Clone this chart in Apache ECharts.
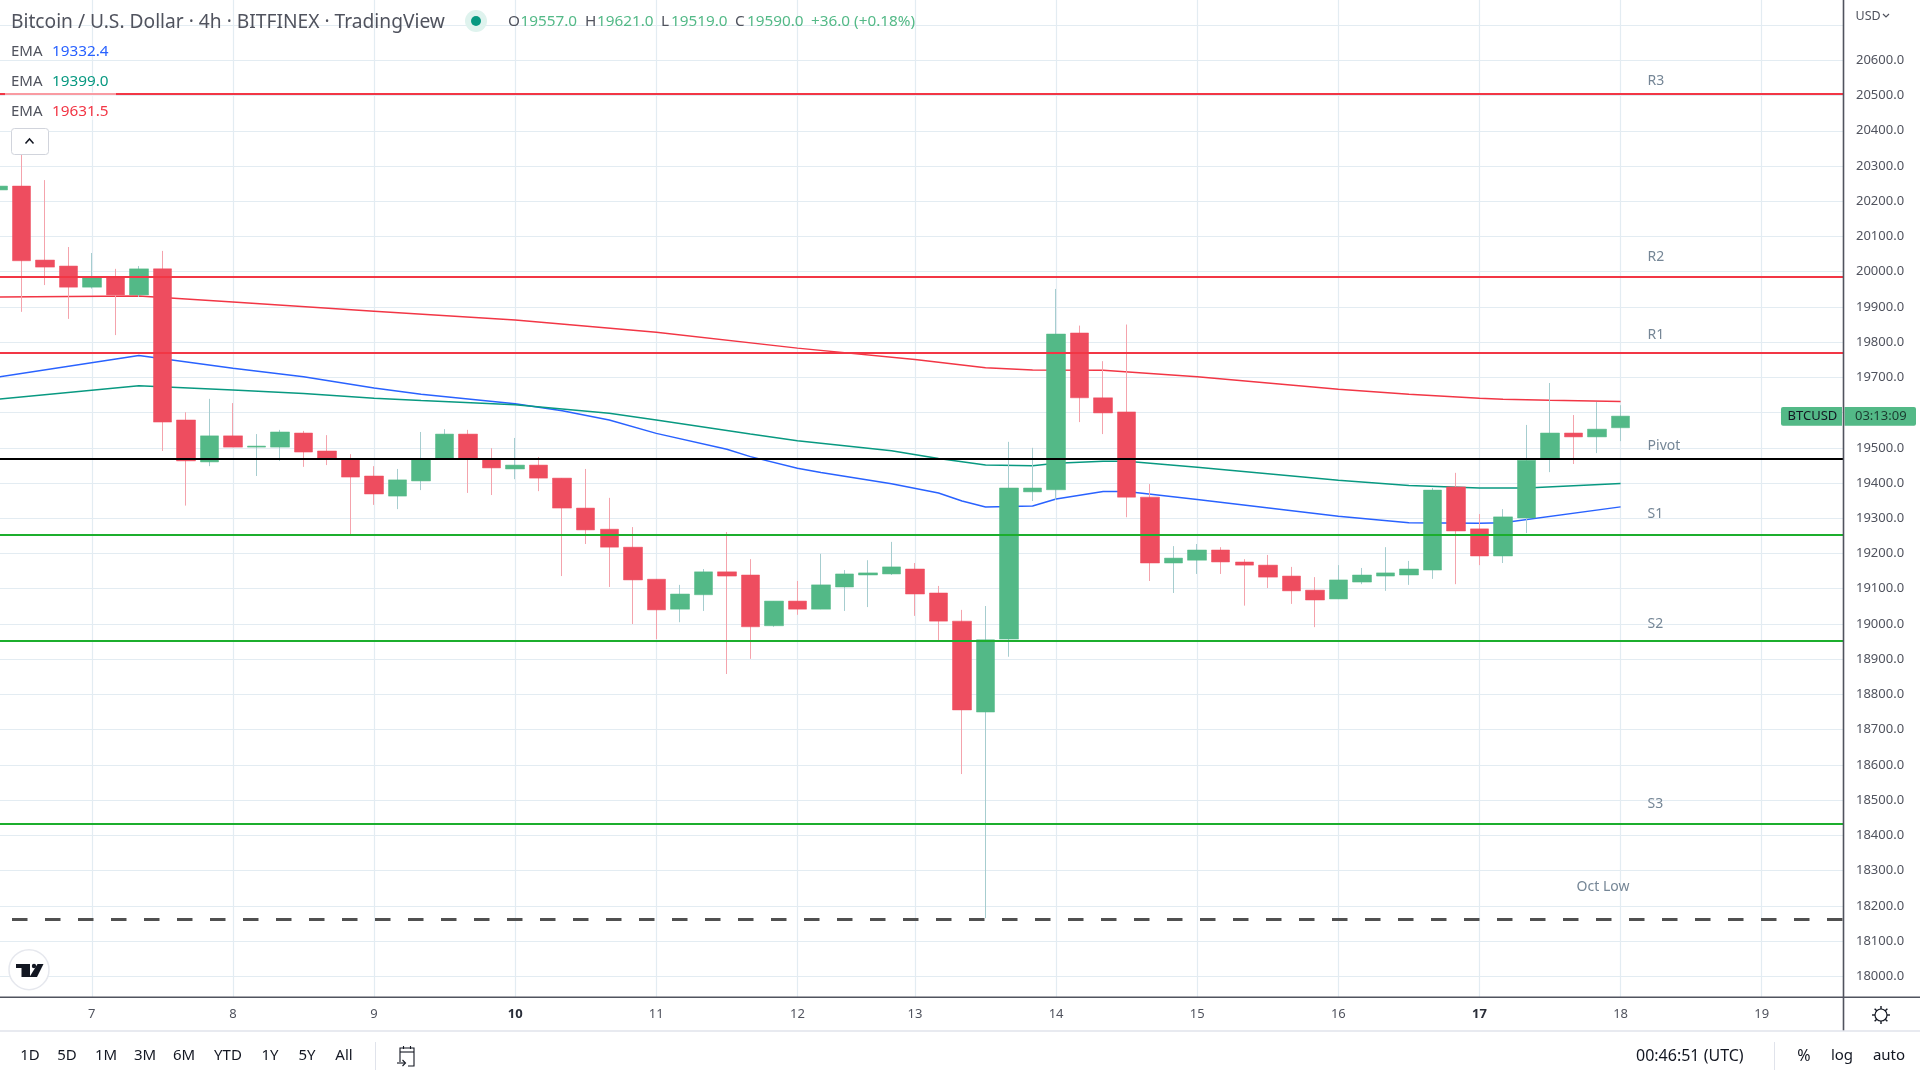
<!DOCTYPE html>
<html><head><meta charset="utf-8">
<style>html,body{margin:0;padding:0;background:#fff;overflow:hidden}#c{width:1920px;height:1080px}</style>
<script src="https://cdn.jsdelivr.net/npm/echarts@6/dist/echarts.min.js"></script>
</head><body><div id="c"></div>
<script>
// candle slot = position on the category axis; each slot is one 4h bar
const opens  = [20232,20243,20033,20016,19956,19982,19934,20008,19579,19460,19534,19502,19502,19542,19491,19468,19420,19363,19406,19471,19539,19468,19440,19451,19414,19329,19269,19218,19127,19042,19083,19148,19139,18995,19065,19042,19105,19139,19142,19156,19088,19008,18750,18957,19375,19381,19826,19642,19602,19360,19173,19181,19210,19176,19167,19136,19096,19071,19119,19136,19139,19153,19389,19270,19193,19301,19471,19542,19531,19557];
const closes = [20243,20031,20013,19956,19982,19934,20008,19573,19463,19534,19502,19505,19545,19488,19471,19417,19369,19409,19468,19539,19471,19443,19451,19414,19329,19267,19218,19125,19040,19085,19148,19136,18992,19065,19042,19111,19142,19145,19162,19085,19008,18756,18955,19386,19386,19823,19642,19599,19360,19173,19187,19210,19176,19167,19133,19094,19068,19125,19139,19145,19156,19380,19264,19193,19304,19465,19542,19531,19553,19590];
const lows   = [20232,19886,19962,19866,19952,19820,19928,19491,19336,19448,19502,19420,19463,19446,19451,19255,19338,19326,19380,19471,19372,19366,19411,19377,19136,19227,19105,19000,18957,19005,19037,18858,18901,18992,19026,19042,19037,19048,19139,19023,18953,18574,18165,18907,19349,19352,19573,19539,19303,19122,19088,19142,19142,19052,19102,19057,18991,19071,19113,19094,19111,19128,19113,19167,19173,19258,19431,19454,19485,19519];
const highs  = [20243,20337,20260,20070,20053,20008,20016,20059,19601,19639,19627,19539,19551,19548,19536,19482,19448,19440,19545,19553,19551,19499,19528,19474,19414,19440,19358,19275,19127,19111,19156,19261,19184,19065,19122,19199,19153,19181,19233,19173,19108,19040,19051,19517,19500,19951,19847,19746,19850,19397,19221,19227,19218,19184,19196,19162,19133,19167,19159,19218,19179,19386,19429,19312,19326,19565,19684,19593,19630,19621];

const slotCount = 79;
const dayTickSlots = [4,10,16,22,28,34,39,45,51,57,63,69,75];
const dayTickLabels = ['7','8','9','10','11','12','13','14','15','16','17','18','19'];
const boldDays = ['10','17'];

const emaBlueSlots  = [0,6,10,13,16,18,22,24,26,28,31,32,34,35,38,40,41,42,44,45,47,48,51,57,60,63,64,69];
const emaBlueValues = [19701,19762,19726,19702,19670,19652,19625,19605,19579,19541,19496,19475,19442,19430,19398,19372,19349,19332,19335,19355,19376,19376,19353,19306,19287,19286,19287,19332.4];
const emaGreenSlots  = [0,6,10,13,16,18,22,24,26,28,32,34,38,40,42,44,45,47,48,51,57,60,63,65,69];
const emaGreenValues = [19638,19676,19664,19654,19641,19634,19622,19610,19598,19579,19539,19520,19492,19470,19451,19449,19456,19462,19462,19445,19408,19393,19386,19386,19399];
const emaRedSlots  = [0,6,10,16,22,28,34,39,42,44,47,51,57,60,63,64,66,69];
const emaRedValues = [19928,19931,19914,19888,19863,19828,19783,19751,19727,19721,19720,19702,19666,19652,19641,19638,19635,19631.5];

const levelValues = [20504,19985,19770,19468,19253,18952,18432];
const levelColors = ['#f23645','#f23645','#f23645','#000000','#1cae2d','#1cae2d','#1cae2d'];
const octLowValue = 18161;
const levelNames = ['R3','R2','R1','Pivot','S1','S2','S3','Oct Low'];
const levelNameSlots = [70,70,70,70,70,70,70,67];
const levelNameValues = [20545,20045,19825,19509,19315,19002,18491,18258];

const FONT = '"Noto Sans"';
const slots = Array.from({length:slotCount},(_,i)=>{const k=dayTickSlots.indexOf(i);return k>=0?dayTickLabels[k]:String(i)});
const isDay = i => dayTickSlots.includes(i);
const fill = (idx,vals)=>{const a=new Array(slotCount).fill(null);idx.forEach((s,k)=>a[s]=vals[k]);return a};
const wicks = opens.map((o,i)=>[o,closes[i],lows[i],highs[i]]);
const bodies = opens.map((o,i)=>[o,closes[i],Math.min(o,closes[i]),Math.max(o,closes[i])]);

const ema = (name,idx,vals,color)=>({name,type:'line',xAxisIndex:0,yAxisIndex:0,data:fill(idx,vals),connectNulls:true,showSymbol:false,symbol:'none',silent:true,z:1,
  lineStyle:{color,width:1.5},itemStyle:{color}});

const T = (x,y,text,size,color,extra)=>({type:'text',x,y,z:100,silent:true,style:{text,font:`${(extra&&extra.weight)||'normal'} ${size}px ${FONT}`,fill:color,verticalAlign:'middle',align:(extra&&extra.align)||'left'}});
const L = (x1,y1,x2,y2,color,w)=>({type:'line',z:101,silent:true,shape:{x1,y1,x2,y2},style:{stroke:color,lineWidth:w||1}});
const PL = (points,color,w)=>({type:'polyline',z:101,silent:true,shape:{points},style:{stroke:color,lineWidth:w||1,fill:'none'}});
const PG = (points,color)=>({type:'polygon',z:101,silent:true,shape:{points},style:{fill:color}});
const GREEN='#53b987', GREY='#50535e', DARK='#131722';
const gr = [];
// axis frame
gr.push(L(1843.5,0,1843.5,1031,GREY,1.6));
gr.push(L(0,997.3,1920,997.3,GREY,1.6));
gr.push(L(0,1031,1920,1031,'#e0e3eb',1.6));
gr.push(L(375.5,1042,375.5,1070,'#e0e3eb',1));
gr.push(L(1774.5,1042,1774.5,1070,'#e0e3eb',1));
// header
gr.push({type:'rect',z:99,silent:true,shape:{x:5,y:92,width:111,height:28},style:{fill:'rgba(255,255,255,0.5)'}});
gr.push(T(11,22.5,'Bitcoin / U.S. Dollar · 4h · BITFINEX · TradingView',19.2,'#50535e'));
gr.push({type:'circle',z:100,silent:true,shape:{cx:476,cy:21,r:11},style:{fill:'#dff3ee'}});
gr.push({type:'circle',z:101,silent:true,shape:{cx:476,cy:21,r:5},style:{fill:'#089981'}});
[['O',508,'19557.0',520.5],['H',585,'19621.0',597],['L',661,'19519.0',671],['C',735,'19590.0',747]].forEach(a=>{
  gr.push(T(a[1],22,a[0],15.3,'#50535e'));gr.push(T(a[3],22,a[2],15.3,GREEN));});
gr.push(T(811,22,'+36.0 (+0.18%)',15.3,GREEN));
[[52,'19332.4','#2962ff'],[82,'19399.0','#089981'],[112,'19631.5','#f23645']].forEach(a=>{
  gr.push(T(11,a[0],'EMA',15,'#50535e'));gr.push(T(52,a[0],a[1],15.3,a[2]));});
gr.push({type:'rect',z:100,silent:true,shape:{x:11.5,y:128.5,width:37,height:26,r:3},style:{fill:'#fff',stroke:'#d1d4dc',lineWidth:1}});
gr.push(PL([[25.5,143.5],[29.5,139],[33.5,143.5]],DARK,1.5));
// TV logo
gr.push({type:'circle',z:100,silent:true,shape:{cx:29,cy:969.7,r:20},style:{fill:'#fff',stroke:'#e6e8ee',lineWidth:1.5}});
gr.push(PG([[16,964],[30,964],[30,977],[21.5,977],[21.5,968],[16,968]],DARK));
gr.push(PG([[37.5,964],[43.5,964],[37,977],[29.5,977]],DARK));
gr.push({type:'circle',z:101,silent:true,shape:{cx:34,cy:966,r:2.2},style:{fill:DARK}});
// price tag
gr.push({type:'rect',z:100,silent:true,shape:{x:1781,y:407,width:61,height:18.7,r:[2,0,0,2]},style:{fill:GREEN}});
gr.push({type:'rect',z:100,silent:true,shape:{x:1844.5,y:407,width:71.5,height:18.7,r:[0,2,2,0]},style:{fill:GREEN}});
gr.push(T(1787.5,416.5,'BTCUSD',13,DARK));
gr.push(T(1855,416.5,'03:13:09',13,'#1b3b30'));
// USD + chevron
gr.push(T(1855.5,16,'USD',12.5,'#50535e'));
gr.push(PL([[1883,14],[1886,17],[1889,14]],'#50535e',1.2));
// gear
gr.push({type:'circle',z:101,silent:true,shape:{cx:1881,cy:1015,r:6},style:{fill:'#fff',stroke:DARK,lineWidth:1.2}});
for(let a=0;a<8;a++){const t=a*Math.PI/4,c=Math.cos(t),s=Math.sin(t);gr.push(L(1881+6*c,1015+6*s,1881+9*c,1015+9*s,DARK,1.4));}
// bottom bar
[['1D',30],['5D',67],['1M',106],['3M',145],['6M',184],['YTD',228],['1Y',270],['5Y',307],['All',344]].forEach(a=>gr.push(T(a[1],1056,a[0],15,DARK,{align:'center'})));
gr.push(T(1636,1056,'00:46:51 (UTC)',16,DARK));
gr.push(T(1804,1056,'%',16,DARK,{align:'center'}));
gr.push(T(1842,1056,'log',15,DARK,{align:'center'}));
gr.push(T(1889,1056,'auto',15,DARK,{align:'center'}));
// calendar icon
gr.push(PL([[400,1062],[400,1048],[414,1048],[414,1066],[408,1066]],DARK,1.1));
gr.push(L(400,1052,414,1052,DARK,1.1));
gr.push(L(403.5,1046,403.5,1049,DARK,1.1));
gr.push(L(410.5,1046,410.5,1049,DARK,1.1));
gr.push(L(397,1063,405,1063,DARK,1.1));
gr.push(PL([[402.5,1060],[405.5,1063],[402.5,1066]],DARK,1.1));

const opt = {
  animation:false,backgroundColor:'#fff',
  grid:[
    {left:-14,right:76,top:-10.16,bottom:68.5,containLabel:false,outerBoundsMode:'none'},
    {left:-14,right:76,top:0,bottom:82.7,containLabel:false,outerBoundsMode:'none'}
  ],
  xAxis:[
    {type:'category',gridIndex:0,data:slots,boundaryGap:true,show:false},
    {type:'category',gridIndex:1,data:slots,boundaryGap:true,
     axisLine:{show:false},axisTick:{show:false},z:0,
     axisLabel:{interval:i=>isDay(i),margin:10.5,fontFamily:FONT,fontSize:13,color:'#50535e',hideOverlap:false,
       formatter:v=>boldDays.includes(v)?`{b|${v}}`:v,rich:{b:{fontWeight:'bold',fontFamily:FONT,fontSize:13,color:'#2a2e39'}}},
     splitLine:{show:true,alignWithLabel:true,interval:i=>isDay(i),lineStyle:{color:'#e3ecf2',width:1.2}}}
  ],
  yAxis:[
    {type:'value',gridIndex:0,position:'right',min:17900,max:20800,interval:100,axisLine:{show:false},axisTick:{show:false},
     axisLabel:{margin:12,fontFamily:FONT,fontSize:13,color:'#50535e',showMinLabel:false,showMaxLabel:false,padding:[2,0,0,0],
       formatter:v=>(v>=18000&&v<=20600)?v.toFixed(1):''},
     splitLine:{show:true,showMinLine:false,lineStyle:{color:'#e3ecf2',width:1.2}}},
    {type:'value',gridIndex:1,min:0,max:1,show:false,splitLine:{show:false}}
  ],
  graphic:{elements:gr},
  series:[
    ema('EMA 19332.4',emaBlueSlots,emaBlueValues,'#2962ff'),
    ema('EMA 19399.0',emaGreenSlots,emaGreenValues,'#089981'),
    ema('EMA 19631.5',emaRedSlots,emaRedValues,'#f23645'),
    {name:'wicks',type:'candlestick',xAxisIndex:0,yAxisIndex:0,data:wicks,barWidth:1,z:2,silent:true,
     itemStyle:{color:'#a6cdcf',color0:'#f4a3ac',borderColor:'#a6cdcf',borderColor0:'#f4a3ac',borderWidth:1}},
    {name:'BTCUSD',type:'candlestick',xAxisIndex:0,yAxisIndex:0,data:bodies,barWidth:19,z:3,silent:true,
     itemStyle:{color:GREEN,color0:'#ee4d5f',borderColor:GREEN,borderColor0:'#ee4d5f',borderWidth:0.5}},
    {name:'levels',type:'line',xAxisIndex:0,yAxisIndex:0,data:[],z:4,silent:true,
     markLine:{silent:true,symbol:'none',animation:false,label:{show:false},z:5,
       data:levelValues.map((v,i)=>({yAxis:v,lineStyle:{color:levelColors[i],width:2,type:'solid'}})).concat([
         {yAxis:octLowValue,lineStyle:{color:'#505050',width:2.8,type:[15.5,17.5],dashOffset:7}}])},
     markPoint:{silent:true,symbol:'circle',symbolSize:0,animation:false,z:6,
       data:levelNames.map((n,i)=>({name:n,coord:[levelNameSlots[i],levelNameValues[i]],
         label:{show:true,formatter:n,position:'inside',align:'left',verticalAlign:'middle',offset:[i===7?3:3.5,1.2],fontFamily:FONT,fontSize:14,color:'#758696'}}))}}
  ]
};
echarts.init(document.getElementById('c'),null,{renderer:'canvas'}).setOption(opt);
</script></body></html>
